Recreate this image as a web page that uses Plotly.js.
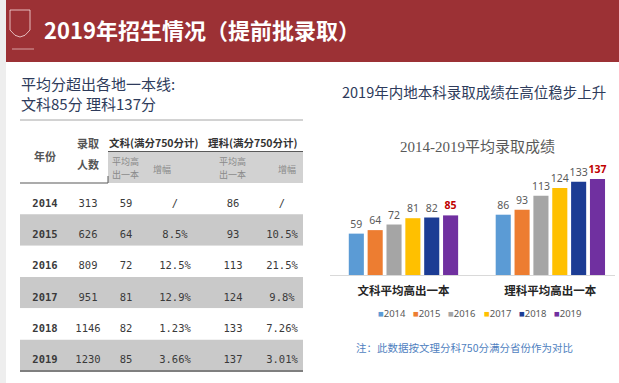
<!DOCTYPE html>
<html><head><meta charset="utf-8">
<script src="https://cdn.plot.ly/plotly-3.0.1.min.js"></script>
<style>html,body{margin:0;padding:0;background:#fff}#chart{width:619px;height:383px}</style>
</head><body><div id="chart"></div>
<script>
// ---- data ----
const years = ['2014','2015','2016','2017','2018','2019'];
const admitted = [313, 626, 809, 951, 1146, 1230];
const wenkeAvg = [59, 64, 72, 81, 82, 85];
const wenkeGrowth = ['/', '8.5%', '12.5%', '12.9%', '1.23%', '3.66%'];
const likeAvg = [86, 93, 113, 124, 133, 137];
const likeGrowth = ['/', '10.5%', '21.5%', '9.8%', '7.26%', '3.01%'];
const groups = ['文科平均高出一本', '理科平均高出一本'];
const yearColors = ['#5b9bd5', '#ed7d31', '#a5a5a5', '#ffc000', '#1c3c94', '#7030a0'];

// ---- layout helpers ----
const W = 619, H = 383;
const px = x => x / W, py = y => 1 - y / H;
const CJK = 'Noto Sans CJK SC, Noto Sans, sans-serif';
const TBL_L = 20, TBL_R = 303;               // table extent (pixels)
const colCenters = [45, 88, 126, 175, 233, 282]; // table column centres (pixels)

// ---- bar chart ----
const traces = years.map((yr, i) => ({
  type: 'bar', name: yr, x: groups, y: [wenkeAvg[i], likeAvg[i]],
  marker: {color: yearColors[i]},
  text: [wenkeAvg[i], likeAvg[i]].map(String), textposition: 'outside',
  textfont: i === years.length - 1
    ? {family: 'Noto Sans, sans-serif', size: 10.5, color: '#c00000', weight: 'bold'}
    : {family: 'Noto Sans, sans-serif', size: 10.5, color: '#595959'},
  cliponaxis: false, constraintext: 'none', showlegend: false, hoverinfo: 'skip'
}));

// ---- table: row bands + cell texts on their own axes ----
traces.push({
  type: 'bar', orientation: 'h', xaxis: 'x2', yaxis: 'y2',
  y: years, x: years.map(() => TBL_R - TBL_L), base: TBL_L, width: 1,
  marker: {color: years.map((_, i) => i % 2 ? '#c9c9c9' : '#ffffff'), line: {width: 0}},
  showlegend: false, hoverinfo: 'skip'
});
const columns = [years.map(y => '<b>' + y + '</b>'), admitted, wenkeAvg, wenkeGrowth, likeAvg, likeGrowth];
columns.forEach((vals, c) => traces.push({
  type: 'scatter', mode: 'text', xaxis: 'x2', yaxis: 'y2',
  x: years.map(() => colCenters[c]), y: years, text: vals.map(String),
  textposition: 'bottom center',
  textfont: {family: 'DejaVu Sans Mono, monospace', size: 10.5, color: '#3a3a3a'},
  cliponaxis: false, showlegend: false, hoverinfo: 'skip'
}));

// ---- annotations ----
const ann = [];
const A = (text, x, y, o) => ann.push(Object.assign({text, x: px(x), y: py(y), xref: 'paper', yref: 'paper', showarrow: false, xanchor: 'left', yanchor: 'middle'}, o || {}));

A('<b>2019年招生情况（提前批录取）</b>', 42, 29, {font: {family: CJK, size: 22, color: '#ffffff'}});
A('平均分超出各地一本线:<br>文科85分 理科137分', 19, 93, {align: 'left', font: {family: CJK, size: 15, color: '#2e3b5b'}});
// table header
const hdr = {family: CJK, size: 11, color: '#555', weight: 'bold'};
const sub = {family: CJK, size: 9, color: '#8a8a8a'};
A('年份', 45, 156, {xanchor: 'center', font: hdr});
A('录取', 88, 143, {xanchor: 'center', font: hdr});
A('人数', 88, 164, {xanchor: 'center', font: hdr});
A('文科(满分750分计)', 154, 142, {xanchor: 'center', font: {family: CJK, size: 10.5, color: '#333', weight: 'bold'}});
A('理科(满分750分计)', 253, 142, {xanchor: 'center', font: {family: CJK, size: 10.5, color: '#333', weight: 'bold'}});
A('平均高', 110, 161, {font: sub});
A('出一本', 110, 174, {font: sub});
A('增幅', 162, 169, {xanchor: 'center', font: sub});
A('平均高', 217, 161, {font: sub});
A('出一本', 217, 174, {font: sub});
A('增幅', 287, 169, {xanchor: 'center', font: sub});
// right side
A('2019年内地本科录取成绩在高位稳步上升', 474, 92, {xanchor: 'center', font: {family: CJK, size: 14.5, color: '#2e3b5b'}});
A('2014-2019平均录取成绩', 477, 147, {xanchor: 'center', font: {family: 'Liberation Serif, Noto Sans CJK SC, serif', size: 15, color: '#595959'}});
A('注：此数据按文理分科750分满分省份作为对比', 464, 347, {xanchor: 'center', font: {family: CJK, size: 10.5, color: '#4f7fc0'}});
// legend
years.forEach((yr, i) => A('<span style="color:' + yearColors[i] + '">■</span>' + yr, 376 + i * 35.2, 313,
  {font: {family: 'Noto Sans, sans-serif', size: 9.5, color: '#595959'}}));

const P = {xref: 'paper', yref: 'paper'};
const shapes = [
  Object.assign({type: 'rect', x0: 0, x1: px(6), y0: 0, y1: 1, fillcolor: '#eeeeee', line: {width: 0}, layer: 'below'}, P),
  Object.assign({type: 'rect', x0: px(6), x1: 1, y0: py(62), y1: 1, fillcolor: '#9c3135', line: {width: 0}, layer: 'below'}, P),
  // logo crest
  Object.assign({type: 'path', path: `M ${px(10)} ${py(10)} L ${px(30)} ${py(10)} L ${px(30)} ${py(30)} Q ${px(20)} ${py(44)} ${px(10)} ${py(30)} Z`, line: {color: 'rgba(255,235,235,0.75)', width: 1}}, P),
  Object.assign({type: 'line', x0: px(12), x1: px(34), y0: py(49), y1: py(49), line: {color: 'rgba(255,235,235,0.6)', width: 1}}, P),
  // table header box and rules
  Object.assign({type: 'rect', x0: px(108), x1: px(TBL_R), y0: py(183), y1: py(152), fillcolor: '#d2d2d2', line: {width: 0}, layer: 'below'}, P),
  Object.assign({type: 'line', x0: px(TBL_L), x1: px(TBL_R), y0: py(120), y1: py(120), line: {color: '#a6a6a6', width: 1}}, P),
  Object.assign({type: 'line', x0: px(108), x1: px(TBL_R), y0: py(151.5), y1: py(151.5), line: {color: '#595959', width: 1}}, P),
  Object.assign({type: 'line', x0: px(TBL_L), x1: px(108), y0: py(183), y1: py(183), line: {color: '#595959', width: 1.2}}, P),
  Object.assign({type: 'line', x0: px(108), x1: px(108), y0: py(176), y1: py(183), line: {color: '#595959', width: 1}}, P),
  Object.assign({type: 'line', x0: px(TBL_L), x1: px(TBL_R), y0: py(371), y1: py(371), line: {color: '#7f7f7f', width: 2}}, P)
];

const layout = {
  width: W, height: H, margin: {l: 0, r: 0, t: 0, b: 0},
  paper_bgcolor: '#ffffff', plot_bgcolor: 'rgba(0,0,0,0)',
  barmode: 'group', bargap: 0.23, bargroupgap: 0.2,
  xaxis: {domain: [px(330), px(615)], type: 'category', range: [-0.5, 1.44],
    showline: true, linecolor: '#d9d9d9', linewidth: 1, ticks: '', showgrid: false, zeroline: false,
    ticklabelstandoff: 5,
    tickfont: {family: CJK, size: 11.5, color: '#262626', weight: 'bold'}},
  yaxis: {domain: [py(275), py(160)], range: [0, 164], visible: false},
  xaxis2: {domain: [px(TBL_L), px(TBL_R)], range: [TBL_L, TBL_R], visible: false, anchor: 'y2'},
  yaxis2: {domain: [py(371), py(183)], type: 'category', categoryarray: years, range: [5.5, -0.5], visible: false, anchor: 'x2'},
  showlegend: false,
  annotations: ann, shapes: shapes
};

Plotly.newPlot('chart', traces, layout, {displayModeBar: false, staticPlot: true});
</script></body></html>
